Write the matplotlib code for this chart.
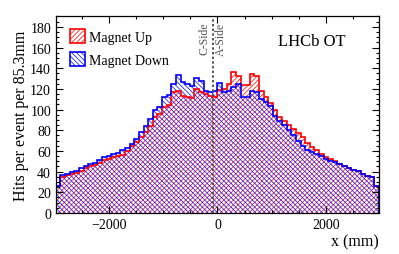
"""LHCb OT hit occupancy vs x for the two magnet polarities."""
import numpy as np
import matplotlib
matplotlib.use("Agg")
import matplotlib.pyplot as plt
from matplotlib.patches import Patch
from matplotlib.ticker import MultipleLocator

# bin width in mm, bins centred on x = 0
BIN_WIDTH = 85.3
N_BINS = 70

# hits per event per bin
magnet_up = [
    26, 35, 37, 38, 39, 41, 43, 45, 46, 48,
    51, 52, 54, 55, 56, 60, 65, 69, 73, 78,
    84, 93, 96, 102, 104, 117, 118, 113, 112, 111,
    120, 117, 115, 113, 112, 119, 120, 125, 136, 132,
    124, 124, 134, 132, 118, 112, 106, 100, 93, 89,
    85, 81, 77, 73, 68, 64, 61, 57, 54, 52,
    50, 47, 45, 43, 42, 41, 38, 36, 35, 26,
]
magnet_down = [
    26, 37, 38, 40, 41, 43, 45, 47, 48, 51,
    54, 55, 57, 58, 61, 63, 67, 72, 78, 84,
    91, 100, 102, 112, 114, 125, 133, 127, 125, 123,
    131, 128, 118, 117, 118, 126, 117, 118, 122, 125,
    112, 112, 118, 117, 110, 107, 103, 94, 89, 85,
    80, 75, 70, 65, 61, 59, 57, 55, 52, 50,
    49, 47, 45, 43, 42, 41, 38, 36, 35, 26,
]
side_boundary = -80  # mm, C-side / A-side split

plt.rcParams["font.family"] = ["Liberation Serif", "DejaVu Serif"]
plt.rcParams["hatch.linewidth"] = 0.5

edges = -N_BINS * BIN_WIDTH / 2 + BIN_WIDTH * np.arange(N_BINS + 1)

fig = plt.figure(figsize=(3.99, 2.55), dpi=100)
ax = fig.add_axes([0.140, 0.161, 0.810, 0.772])

HATCH = "///////"
BACK = "\\" * 7

# hatched fills first, outlines on top (blue last like the original)
ax.stairs(magnet_up, edges, fill=True, facecolor="none", edgecolor="#ff0000",
          hatch=HATCH, linewidth=0)
ax.stairs(magnet_down, edges, fill=True, facecolor="none", edgecolor="#0000ff",
          hatch=BACK, linewidth=0)
ax.stairs(magnet_up, edges, color="#ff0000", linewidth=1.2)
ax.stairs(magnet_down, edges, color="#0000ff", linewidth=1.2)

ax.axvline(side_boundary, color="#555555", ls=(0, (1.2, 1.2)), lw=1.4)
ax.text(side_boundary - 40, 185, "C-Side", rotation=90, ha="right", va="top",
        fontsize=8.5, color="#555555")
ax.text(side_boundary + 40, 185, "A-Side", rotation=90, ha="left", va="top",
        fontsize=8.5, color="#555555")

ax.text(0.793, 0.873, "LHCb OT", transform=ax.transAxes, ha="center",
        va="center", fontsize=12)

handles = [
    Patch(facecolor="white", edgecolor="#ff0000", hatch=HATCH, lw=1.2,
          label="Magnet Up"),
    Patch(facecolor="white", edgecolor="#0000ff", hatch=BACK, lw=1.2,
          label="Magnet Down"),
]
ax.legend(handles=handles, loc="upper left", bbox_to_anchor=(0.043, 0.934),
          frameon=False, fontsize=10, borderaxespad=0, borderpad=0,
          handlelength=1.1, handleheight=1.15, handletextpad=0.25,
          labelspacing=0.6)

ax.set_xlim(edges[0], edges[-1])
ax.set_ylim(0, 190.4)
ax.xaxis.set_major_locator(MultipleLocator(2000))
ax.xaxis.set_minor_locator(MultipleLocator(500))
ax.yaxis.set_major_locator(MultipleLocator(20))
ax.yaxis.set_minor_locator(MultipleLocator(5))
ax.tick_params(which="both", direction="in", top=True, right=True,
               labelsize=10, width=0.8)
ax.tick_params(which="major", length=5)
ax.tick_params(which="minor", length=2.5)
for s in ax.spines.values():
    s.set_linewidth(0.9)

ax.set_xlabel("x (mm)", fontsize=11.5, loc="right", labelpad=2)
ax.set_ylabel("Hits per event per 85.3mm", fontsize=11.5, labelpad=1)

fig.savefig("out.png", dpi=100)
